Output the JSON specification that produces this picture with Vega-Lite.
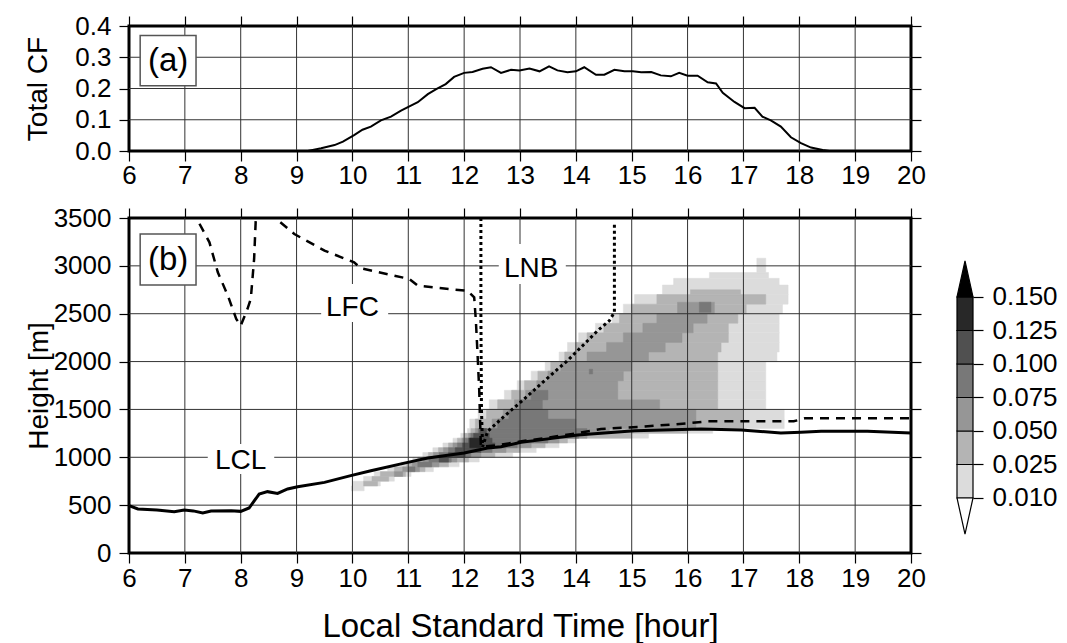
{
"$schema": "https://vega.github.io/schema/vega-lite/v6.json",
"background": "white",
"padding": {"left": 23, "top": 11, "right": 5, "bottom": 5},
"config": {"view": {"stroke": null}, "font": "Liberation Sans",
  "axis": {"labelFont": "Liberation Sans", "titleFont": "Liberation Sans", "labelFontSize": 26, "titleFontSize": 28, "labelColor": "black", "titleColor": "black", "tickColor": "black", "tickSize": 10, "tickWidth": 1.2, "domain": false, "grid": false, "titleFontWeight": "normal", "labelFlush": false, "labelOverlap": false}},
"columns": 2,
"align": "each",
"spacing": {"row": 13, "column": 27},
"concat": [
{
 "width": 782, "height": 125,
 "view": {"stroke": "black", "strokeWidth": 3},
 "layer": [
  {"data": {"values": [{"g":7},{"g":8},{"g":9},{"g":10},{"g":11},{"g":12},{"g":13},{"g":14},{"g":15},{"g":16},{"g":17},{"g":18},{"g":19}]},
   "mark": {"type": "rule", "color": "#333", "strokeWidth": 1},
   "encoding": {"x": {"field": "g", "type": "quantitative", "scale": {"domain": [6, 20], "nice": false, "zero": false},
     "axis": {"orient": "bottom", "values": [6,7,8,9,10,11,12,13,14,15,16,17,18,19,20], "title": null, "labelPadding": 1}}}},
  {"data": {"values": [{"g":0.1},{"g":0.2},{"g":0.3}]},
   "mark": {"type": "rule", "color": "#333", "strokeWidth": 1},
   "encoding": {"y": {"field": "g", "type": "quantitative", "scale": {"domain": [0, 0.4], "nice": false, "zero": false},
     "axis": {"orient": "left", "values": [0,0.1,0.2,0.3,0.4], "format": ".1f", "title": "Total CF", "labelPadding": 8, "titlePadding": 22}}}},
  {"data": {"values": [{"t":6,"cf":0},{"t":9.2,"cf":0},{"t":9.44,"cf":0.009},{"t":9.68,"cf":0.019},{"t":9.83,"cf":0.03},{"t":10.03,"cf":0.051},{"t":10.18,"cf":0.068},{"t":10.33,"cf":0.078},{"t":10.51,"cf":0.098},{"t":10.69,"cf":0.11},{"t":10.87,"cf":0.129},{"t":11.02,"cf":0.143},{"t":11.17,"cf":0.156},{"t":11.35,"cf":0.182},{"t":11.5,"cf":0.198},{"t":11.67,"cf":0.214},{"t":11.82,"cf":0.237},{"t":12.0,"cf":0.25},{"t":12.15,"cf":0.253},{"t":12.33,"cf":0.263},{"t":12.48,"cf":0.268},{"t":12.66,"cf":0.25},{"t":12.84,"cf":0.26},{"t":12.99,"cf":0.258},{"t":13.17,"cf":0.264},{"t":13.35,"cf":0.255},{"t":13.52,"cf":0.271},{"t":13.67,"cf":0.258},{"t":13.85,"cf":0.252},{"t":14.0,"cf":0.255},{"t":14.15,"cf":0.268},{"t":14.36,"cf":0.244},{"t":14.51,"cf":0.244},{"t":14.69,"cf":0.26},{"t":14.87,"cf":0.255},{"t":15.02,"cf":0.255},{"t":15.17,"cf":0.252},{"t":15.35,"cf":0.253},{"t":15.52,"cf":0.242},{"t":15.7,"cf":0.239},{"t":15.85,"cf":0.25},{"t":16.0,"cf":0.241},{"t":16.18,"cf":0.241},{"t":16.36,"cf":0.22},{"t":16.51,"cf":0.216},{"t":16.63,"cf":0.186},{"t":16.84,"cf":0.157},{"t":17.02,"cf":0.137},{"t":17.2,"cf":0.138},{"t":17.34,"cf":0.11},{"t":17.49,"cf":0.098},{"t":17.67,"cf":0.078},{"t":17.85,"cf":0.044},{"t":18.03,"cf":0.025},{"t":18.21,"cf":0.011},{"t":18.42,"cf":0.003},{"t":18.54,"cf":0},{"t":20,"cf":0}]},
   "mark": {"type": "line", "color": "black", "strokeWidth": 2, "clip": true},
   "encoding": {"x": {"field": "t", "type": "quantitative", "axis": {"orient": "top", "values": [6,7,8,9,10,11,12,13,14,15,16,17,18,19,20], "labels": false, "title": null}},
                "y": {"field": "cf", "type": "quantitative", "axis": {"orient": "right", "values": [0,0.1,0.2,0.3,0.4], "labels": false, "title": null}}}},
  {"data": {"values": [{"t0":6.2,"t1":7.2,"c0":0.209,"c1":0.37}]},
   "mark": {"type": "rect", "fill": "white", "stroke": "#555", "strokeWidth": 1.5},
   "encoding": {"x": {"field": "t0", "type": "quantitative", "axis": null}, "x2": {"field": "t1"}, "y": {"field": "c0", "type": "quantitative", "axis": null}, "y2": {"field": "c1"}}},
  {"data": {"values": [{"t":6.7,"c":0.256,"s":"(a)"}]},
   "mark": {"type": "text", "fontSize": 33, "align": "center", "baseline": "alphabetic", "font": "Liberation Sans", "color": "black"},
   "encoding": {"x": {"field": "t", "type": "quantitative", "axis": null}, "y": {"field": "c", "type": "quantitative", "axis": null}, "text": {"field": "s"}}}
 ],
 "resolve": {"axis": {"x": "independent", "y": "independent"}}
},
{
 "width": 16, "height": 125,
 "data": {"values": [{"a": 1}]},
 "mark": {"type": "point", "opacity": 0},
 "encoding": {}
},
{
 "width": 782, "height": 335,
 "view": {"stroke": "black", "strokeWidth": 3},
 "layer": [
  {"data": {"values": [
{"t0":9.98,"t1":10.21,"h0":650,"h1":700,"v":0.017},
{"t0":10.0,"t1":10.5,"h0":700,"h1":750,"v":0.017},
{"t0":10.2,"t1":10.75,"h0":750,"h1":800,"v":0.017},
{"t0":10.39,"t1":11.05,"h0":800,"h1":850,"v":0.017},
{"t0":10.63,"t1":11.45,"h0":850,"h1":900,"v":0.017},
{"t0":10.87,"t1":11.91,"h0":900,"h1":950,"v":0.017},
{"t0":11.08,"t1":12.27,"h0":950,"h1":1000,"v":0.017},
{"t0":11.26,"t1":12.87,"h0":1000,"h1":1050,"v":0.017},
{"t0":11.44,"t1":13.29,"h0":1050,"h1":1100,"v":0.017},
{"t0":11.62,"t1":13.7,"h0":1100,"h1":1150,"v":0.017},
{"t0":11.8,"t1":14.0,"h0":1150,"h1":1200,"v":0.017},
{"t0":11.94,"t1":15.3,"h0":1200,"h1":1250,"v":0.017},
{"t0":12.06,"t1":16.45,"h0":1250,"h1":1300,"v":0.017},
{"t0":12.1,"t1":17.73,"h0":1300,"h1":1400,"v":0.017},
{"t0":12.25,"t1":17.73,"h0":1400,"h1":1500,"v":0.017},
{"t0":12.45,"t1":17.4,"h0":1500,"h1":1600,"v":0.017},
{"t0":12.72,"t1":17.4,"h0":1600,"h1":1700,"v":0.017},
{"t0":12.95,"t1":17.4,"h0":1700,"h1":1800,"v":0.017},
{"t0":13.2,"t1":17.4,"h0":1800,"h1":1900,"v":0.017},
{"t0":13.45,"t1":17.4,"h0":1900,"h1":2000,"v":0.017},
{"t0":13.7,"t1":17.6,"h0":2000,"h1":2100,"v":0.017},
{"t0":13.85,"t1":17.64,"h0":2100,"h1":2200,"v":0.017},
{"t0":14.05,"t1":17.64,"h0":2200,"h1":2300,"v":0.017},
{"t0":14.35,"t1":17.64,"h0":2300,"h1":2400,"v":0.017},
{"t0":14.65,"t1":17.64,"h0":2400,"h1":2500,"v":0.017},
{"t0":14.85,"t1":17.7,"h0":2500,"h1":2600,"v":0.017},
{"t0":15.05,"t1":17.8,"h0":2600,"h1":2700,"v":0.017},
{"t0":15.55,"t1":17.8,"h0":2700,"h1":2800,"v":0.017},
{"t0":15.75,"t1":17.64,"h0":2800,"h1":2870,"v":0.017},
{"t0":16.39,"t1":17.45,"h0":2870,"h1":2930,"v":0.017},
{"t0":17.24,"t1":17.4,"h0":2930,"h1":3080,"v":0.017},
{"t0":10.2,"t1":10.45,"h0":700,"h1":750,"v":0.035},
{"t0":10.35,"t1":10.65,"h0":750,"h1":800,"v":0.035},
{"t0":10.5,"t1":10.95,"h0":800,"h1":850,"v":0.035},
{"t0":10.75,"t1":11.3,"h0":850,"h1":900,"v":0.035},
{"t0":10.97,"t1":11.72,"h0":900,"h1":950,"v":0.035},
{"t0":11.17,"t1":12.08,"h0":950,"h1":1000,"v":0.035},
{"t0":11.36,"t1":12.55,"h0":1000,"h1":1050,"v":0.035},
{"t0":11.54,"t1":13.0,"h0":1050,"h1":1100,"v":0.035},
{"t0":11.72,"t1":13.45,"h0":1100,"h1":1150,"v":0.035},
{"t0":11.88,"t1":13.85,"h0":1150,"h1":1200,"v":0.035},
{"t0":12.0,"t1":15.0,"h0":1200,"h1":1250,"v":0.035},
{"t0":12.12,"t1":16.0,"h0":1250,"h1":1300,"v":0.035},
{"t0":12.2,"t1":17.0,"h0":1300,"h1":1400,"v":0.035},
{"t0":12.4,"t1":17.0,"h0":1400,"h1":1500,"v":0.035},
{"t0":12.6,"t1":16.54,"h0":1500,"h1":1600,"v":0.035},
{"t0":12.85,"t1":16.54,"h0":1600,"h1":1700,"v":0.035},
{"t0":13.08,"t1":16.54,"h0":1700,"h1":1800,"v":0.035},
{"t0":13.32,"t1":16.54,"h0":1800,"h1":1900,"v":0.035},
{"t0":13.55,"t1":16.54,"h0":1900,"h1":2000,"v":0.035},
{"t0":13.8,"t1":16.54,"h0":2000,"h1":2100,"v":0.035},
{"t0":14.0,"t1":16.6,"h0":2100,"h1":2200,"v":0.035},
{"t0":14.2,"t1":16.73,"h0":2200,"h1":2300,"v":0.035},
{"t0":14.5,"t1":16.73,"h0":2300,"h1":2400,"v":0.035},
{"t0":14.78,"t1":16.9,"h0":2400,"h1":2500,"v":0.035},
{"t0":15.0,"t1":17.05,"h0":2500,"h1":2600,"v":0.035},
{"t0":15.45,"t1":17.4,"h0":2600,"h1":2700,"v":0.035},
{"t0":16.05,"t1":16.95,"h0":2700,"h1":2750,"v":0.035},
{"t0":10.75,"t1":10.9,"h0":800,"h1":850,"v":0.06},
{"t0":10.9,"t1":11.2,"h0":850,"h1":900,"v":0.06},
{"t0":11.07,"t1":11.55,"h0":900,"h1":950,"v":0.06},
{"t0":11.27,"t1":11.87,"h0":950,"h1":1000,"v":0.06},
{"t0":11.45,"t1":12.3,"h0":1000,"h1":1050,"v":0.06},
{"t0":11.63,"t1":12.75,"h0":1050,"h1":1100,"v":0.06},
{"t0":11.8,"t1":13.2,"h0":1100,"h1":1150,"v":0.06},
{"t0":11.96,"t1":13.7,"h0":1150,"h1":1200,"v":0.06},
{"t0":12.08,"t1":14.2,"h0":1200,"h1":1250,"v":0.06},
{"t0":12.2,"t1":14.6,"h0":1250,"h1":1300,"v":0.06},
{"t0":12.5,"t1":16.15,"h0":1300,"h1":1400,"v":0.06},
{"t0":12.7,"t1":16.15,"h0":1400,"h1":1500,"v":0.06},
{"t0":12.9,"t1":15.5,"h0":1500,"h1":1600,"v":0.06},
{"t0":13.1,"t1":14.75,"h0":1600,"h1":1700,"v":0.06},
{"t0":13.3,"t1":14.75,"h0":1700,"h1":1800,"v":0.06},
{"t0":13.5,"t1":14.85,"h0":1800,"h1":1900,"v":0.06},
{"t0":13.73,"t1":15.0,"h0":1900,"h1":2000,"v":0.06},
{"t0":14.2,"t1":15.3,"h0":2000,"h1":2100,"v":0.06},
{"t0":14.55,"t1":15.6,"h0":2100,"h1":2200,"v":0.06},
{"t0":14.85,"t1":15.9,"h0":2200,"h1":2300,"v":0.06},
{"t0":15.2,"t1":16.1,"h0":2300,"h1":2400,"v":0.06},
{"t0":15.45,"t1":16.35,"h0":2400,"h1":2500,"v":0.06},
{"t0":15.82,"t1":16.48,"h0":2500,"h1":2620,"v":0.06},
{"t0":11.0,"t1":11.12,"h0":850,"h1":900,"v":0.085},
{"t0":11.17,"t1":11.42,"h0":900,"h1":950,"v":0.085},
{"t0":11.37,"t1":11.77,"h0":950,"h1":1000,"v":0.085},
{"t0":11.55,"t1":12.12,"h0":1000,"h1":1050,"v":0.085},
{"t0":11.72,"t1":12.5,"h0":1050,"h1":1100,"v":0.085},
{"t0":11.88,"t1":12.95,"h0":1100,"h1":1150,"v":0.085},
{"t0":12.02,"t1":13.5,"h0":1150,"h1":1200,"v":0.085},
{"t0":12.12,"t1":14.05,"h0":1200,"h1":1250,"v":0.085},
{"t0":12.25,"t1":14.2,"h0":1250,"h1":1300,"v":0.085},
{"t0":12.6,"t1":14.0,"h0":1300,"h1":1400,"v":0.085},
{"t0":12.8,"t1":13.5,"h0":1400,"h1":1500,"v":0.085},
{"t0":13.0,"t1":13.4,"h0":1500,"h1":1600,"v":0.085},
{"t0":13.2,"t1":13.5,"h0":1600,"h1":1700,"v":0.085},
{"t0":14.24,"t1":14.3,"h0":1870,"h1":1920,"v":0.085},
{"t0":16.21,"t1":16.42,"h0":2515,"h1":2620,"v":0.085},
{"t0":11.55,"t1":11.72,"h0":950,"h1":1000,"v":0.11},
{"t0":11.72,"t1":12.02,"h0":1000,"h1":1050,"v":0.11},
{"t0":11.84,"t1":12.3,"h0":1050,"h1":1100,"v":0.11},
{"t0":11.97,"t1":12.55,"h0":1100,"h1":1150,"v":0.11},
{"t0":12.08,"t1":12.5,"h0":1150,"h1":1200,"v":0.11},
{"t0":12.17,"t1":12.45,"h0":1200,"h1":1250,"v":0.11},
{"t0":12.28,"t1":12.4,"h0":1250,"h1":1300,"v":0.11},
{"t0":12.1,"t1":12.3,"h0":1100,"h1":1200,"v":0.135}
  ]},
   "mark": {"type": "rect", "strokeWidth": 0.5},
   "encoding": {
     "x": {"field": "t0", "type": "quantitative", "scale": {"domain": [6, 20], "nice": false, "zero": false}, "axis": null},
     "x2": {"field": "t1"},
     "y": {"field": "h0", "type": "quantitative", "scale": {"domain": [0, 3500], "nice": false, "zero": false}, "axis": null},
     "y2": {"field": "h1"},
     "fill": {"field": "v", "type": "quantitative", "scale": {"type": "threshold", "domain": [0.01,0.025,0.05,0.075,0.1,0.125,0.15], "range": ["#ffffff","#dcdcdc","#b4b4b4","#969696","#787878","#505050","#282828","#000000"]}, "legend": null},
     "stroke": {"field": "v", "type": "quantitative", "scale": {"type": "threshold", "domain": [0.01,0.025,0.05,0.075,0.1,0.125,0.15], "range": ["#ffffff","#dcdcdc","#b4b4b4","#969696","#787878","#505050","#282828","#000000"]}, "legend": null}
   }},
  {"data": {"values": [{"g":7},{"g":8},{"g":9},{"g":10},{"g":11},{"g":12},{"g":13},{"g":14},{"g":15},{"g":16},{"g":17},{"g":18},{"g":19}]},
   "mark": {"type": "rule", "color": "#333", "strokeWidth": 1},
   "encoding": {"x": {"field": "g", "type": "quantitative",
     "axis": {"orient": "bottom", "values": [6,7,8,9,10,11,12,13,14,15,16,17,18,19,20], "title": "Local Standard Time [hour]", "titleFontSize": 33, "labelPadding": 2, "titlePadding": 19}}}},
  {"data": {"values": [{"g":500},{"g":1000},{"g":1500},{"g":2000},{"g":2500},{"g":3000}]},
   "mark": {"type": "rule", "color": "#333", "strokeWidth": 1},
   "encoding": {"y": {"field": "g", "type": "quantitative",
     "axis": {"orient": "left", "values": [0,500,1000,1500,2000,2500,3000,3500], "format": "d", "title": "Height [m]", "labelPadding": 8, "titlePadding": 0}}}},
  {"data": {"values": [{"t0":9.44,"t1":10.64,"h0":2414,"h1":2810},{"t0":12.62,"t1":13.82,"h0":2810,"h1":3228},{"t0":7.41,"t1":8.6,"h0":825,"h1":1139}]},
   "mark": {"type": "rect", "fill": "white"},
   "encoding": {"x": {"field": "t0", "type": "quantitative", "axis": null}, "x2": {"field": "t1"}, "y": {"field": "h0", "type": "quantitative", "axis": null}, "y2": {"field": "h1"}}},
  {"data": {"values": [{"t":10.0,"h":2476,"s":"LFC"},{"t":13.2,"h":2884,"s":"LNB"},{"t":8.0,"h":878,"s":"LCL"}]},
   "mark": {"type": "text", "fontSize": 28, "align": "center", "baseline": "alphabetic", "font": "Liberation Sans", "color": "black"},
   "encoding": {"x": {"field": "t", "type": "quantitative", "axis": null}, "y": {"field": "h", "type": "quantitative", "axis": null}, "text": {"field": "s"}}},
  {"data": {"values": [{"t":6.0,"h":494},{"t":6.16,"h":460},{"t":6.5,"h":450},{"t":6.81,"h":432},{"t":6.99,"h":449},{"t":7.15,"h":440},{"t":7.32,"h":418},{"t":7.47,"h":439},{"t":7.83,"h":442},{"t":8.0,"h":435},{"t":8.15,"h":470},{"t":8.33,"h":616},{"t":8.48,"h":641},{"t":8.66,"h":623},{"t":8.84,"h":669},{"t":9.02,"h":693},{"t":9.5,"h":738},{"t":9.97,"h":808},{"t":10.33,"h":860},{"t":10.99,"h":947},{"t":11.35,"h":992},{"t":12.0,"h":1045},{"t":12.42,"h":1097},{"t":12.66,"h":1110},{"t":13.02,"h":1157},{"t":13.26,"h":1174},{"t":14.03,"h":1233},{"t":15.05,"h":1278},{"t":16.24,"h":1296},{"t":16.96,"h":1285},{"t":17.67,"h":1254},{"t":18.03,"h":1261},{"t":18.39,"h":1271},{"t":19.22,"h":1271},{"t":20.0,"h":1254}]},
   "mark": {"type": "line", "color": "black", "strokeWidth": 3, "clip": true},
   "encoding": {"x": {"field": "t", "type": "quantitative", "axis": {"orient": "top", "values": [6,7,8,9,10,11,12,13,14,15,16,17,18,19,20], "labels": false, "title": null}},
                "y": {"field": "h", "type": "quantitative", "axis": {"orient": "right", "values": [0,500,1000,1500,2000,2500,3000,3500], "labels": false, "title": null}}}},
  {"data": {"values": [{"o":1,"t":7.05,"h":3750},{"o":2,"t":7.2,"h":3507},{"o":3,"t":7.44,"h":3246},{"o":4,"t":7.59,"h":2933},{"o":5,"t":7.77,"h":2689},{"o":6,"t":7.92,"h":2445},{"o":7,"t":8.0,"h":2375},{"o":8,"t":8.12,"h":2549},{"o":9,"t":8.18,"h":2654},{"o":10,"t":8.24,"h":3072},{"o":11,"t":8.27,"h":3490},{"o":12,"t":8.4,"h":3800},{"o":13,"t":8.55,"h":3700},{"o":14,"t":8.66,"h":3480},{"o":15,"t":8.96,"h":3333},{"o":16,"t":9.5,"h":3159},{"o":17,"t":10.03,"h":3037},{"o":18,"t":10.15,"h":2975},{"o":19,"t":11.02,"h":2863},{"o":20,"t":11.17,"h":2793},{"o":21,"t":12.06,"h":2738},{"o":22,"t":12.18,"h":2671},{"o":23,"t":12.21,"h":2427},{"o":24,"t":12.24,"h":2079},{"o":25,"t":12.27,"h":1700},{"o":26,"t":12.29,"h":1300},{"o":27,"t":12.3,"h":1110},{"o":28,"t":12.6,"h":1125},{"o":29,"t":13.0,"h":1165},{"o":30,"t":13.5,"h":1205},{"o":31,"t":14.0,"h":1250},{"o":32,"t":14.45,"h":1296},{"o":33,"t":15.2,"h":1320},{"o":34,"t":16.0,"h":1355},{"o":35,"t":16.35,"h":1376},{"o":36,"t":17.9,"h":1376},{"o":37,"t":18.1,"h":1407},{"o":38,"t":20.0,"h":1407}]},
   "mark": {"type": "line", "color": "black", "strokeWidth": 2.5, "strokeDash": [9, 7], "clip": true},
   "encoding": {"x": {"field": "t", "type": "quantitative", "axis": null}, "y": {"field": "h", "type": "quantitative", "axis": null}, "order": {"field": "o", "type": "quantitative"}}},
  {"data": {"values": [{"o":1,"t":12.3,"h":3500},{"o":2,"t":12.3,"h":2500},{"o":3,"t":12.31,"h":1500},{"o":4,"t":12.33,"h":1110},{"o":5,"t":12.42,"h":1270},{"o":6,"t":12.7,"h":1420},{"o":7,"t":13.0,"h":1570},{"o":8,"t":13.4,"h":1780},{"o":9,"t":13.85,"h":2010},{"o":10,"t":14.15,"h":2183},{"o":11,"t":14.39,"h":2323},{"o":12,"t":14.6,"h":2427},{"o":13,"t":14.69,"h":2515},{"o":14,"t":14.69,"h":3460}]},
   "mark": {"type": "line", "color": "black", "strokeWidth": 3, "strokeDash": [3, 3], "clip": true},
   "encoding": {"x": {"field": "t", "type": "quantitative", "axis": null}, "y": {"field": "h", "type": "quantitative", "axis": null}, "order": {"field": "o", "type": "quantitative"}}},
  {"data": {"values": [{"t0":6.2,"t1":7.2,"h0":2800,"h1":3333}]},
   "mark": {"type": "rect", "fill": "white", "stroke": "#555", "strokeWidth": 1.5},
   "encoding": {"x": {"field": "t0", "type": "quantitative", "axis": null}, "x2": {"field": "t1"}, "y": {"field": "h0", "type": "quantitative", "axis": null}, "y2": {"field": "h1"}}},
  {"data": {"values": [{"t":6.7,"h":2957,"s":"(b)"}]},
   "mark": {"type": "text", "fontSize": 33, "align": "center", "baseline": "alphabetic", "font": "Liberation Sans", "color": "black"},
   "encoding": {"x": {"field": "t", "type": "quantitative", "axis": null}, "y": {"field": "h", "type": "quantitative", "axis": null}, "text": {"field": "s"}}}
 ],
 "resolve": {"axis": {"x": "independent", "y": "independent"}}
},
{
 "width": 16, "height": 335,
 "layer": [
  {"data": {"values": [{"a":0,"b":1,"i0":0,"i1":1,"v":0.017},{"a":0,"b":1,"i0":1,"i1":2,"v":0.035},{"a":0,"b":1,"i0":2,"i1":3,"v":0.06},{"a":0,"b":1,"i0":3,"i1":4,"v":0.085},{"a":0,"b":1,"i0":4,"i1":5,"v":0.11},{"a":0,"b":1,"i0":5,"i1":6,"v":0.135}]},
   "mark": {"type": "rect", "stroke": "black", "strokeWidth": 1.2},
   "encoding": {
     "x": {"field": "a", "type": "quantitative", "scale": {"domain": [0, 1], "nice": false, "zero": false}, "axis": null},
     "x2": {"field": "b"},
     "y": {"field": "i0", "type": "quantitative", "scale": {"domain": [-1.642, 8.358], "nice": false, "zero": false},
       "axis": {"orient": "right", "values": [0,1,2,3,4,5,6], "labelExpr": "datum.value == 0 ? '0.010' : datum.value == 1 ? '0.025' : datum.value == 2 ? '0.050' : datum.value == 3 ? '0.075' : datum.value == 4 ? '0.100' : datum.value == 5 ? '0.125' : '0.150'", "title": null, "labelPadding": 9}},
     "y2": {"field": "i1"},
     "fill": {"field": "v", "type": "quantitative", "scale": {"type": "threshold", "domain": [0.01,0.025,0.05,0.075,0.1,0.125,0.15], "range": ["#ffffff","#dcdcdc","#b4b4b4","#969696","#787878","#505050","#282828","#000000"]}, "legend": null}
   }},
  {"data": {"values": [{"x":0,"y":6,"y2":6},{"x":0.5,"y":7.075,"y2":6},{"x":1,"y":6,"y2":6}]},
   "mark": {"type": "area", "fill": "black", "stroke": "black", "strokeWidth": 1.2, "orient": "vertical"},
   "encoding": {"x": {"field": "x", "type": "quantitative", "axis": null},
     "y": {"field": "y", "type": "quantitative", "axis": {"orient": "right", "values": [0,1,2,3,4,5,6], "labelExpr": "datum.value == 0 ? '0.010' : datum.value == 1 ? '0.025' : datum.value == 2 ? '0.050' : datum.value == 3 ? '0.075' : datum.value == 4 ? '0.100' : datum.value == 5 ? '0.125' : '0.150'", "title": null, "labelPadding": 9}},
     "y2": {"field": "y2"}}},
  {"data": {"values": [{"x":0,"y":0,"y2":0},{"x":0.5,"y":-1.075,"y2":0},{"x":1,"y":0,"y2":0}]},
   "mark": {"type": "area", "fill": "white", "stroke": "black", "strokeWidth": 1.2, "orient": "vertical"},
   "encoding": {"x": {"field": "x", "type": "quantitative", "axis": null},
     "y": {"field": "y", "type": "quantitative", "axis": {"orient": "right", "values": [0,1,2,3,4,5,6], "labelExpr": "datum.value == 0 ? '0.010' : datum.value == 1 ? '0.025' : datum.value == 2 ? '0.050' : datum.value == 3 ? '0.075' : datum.value == 4 ? '0.100' : datum.value == 5 ? '0.125' : '0.150'", "title": null, "labelPadding": 9}},
     "y2": {"field": "y2"}}}
 ]
}
]
}
